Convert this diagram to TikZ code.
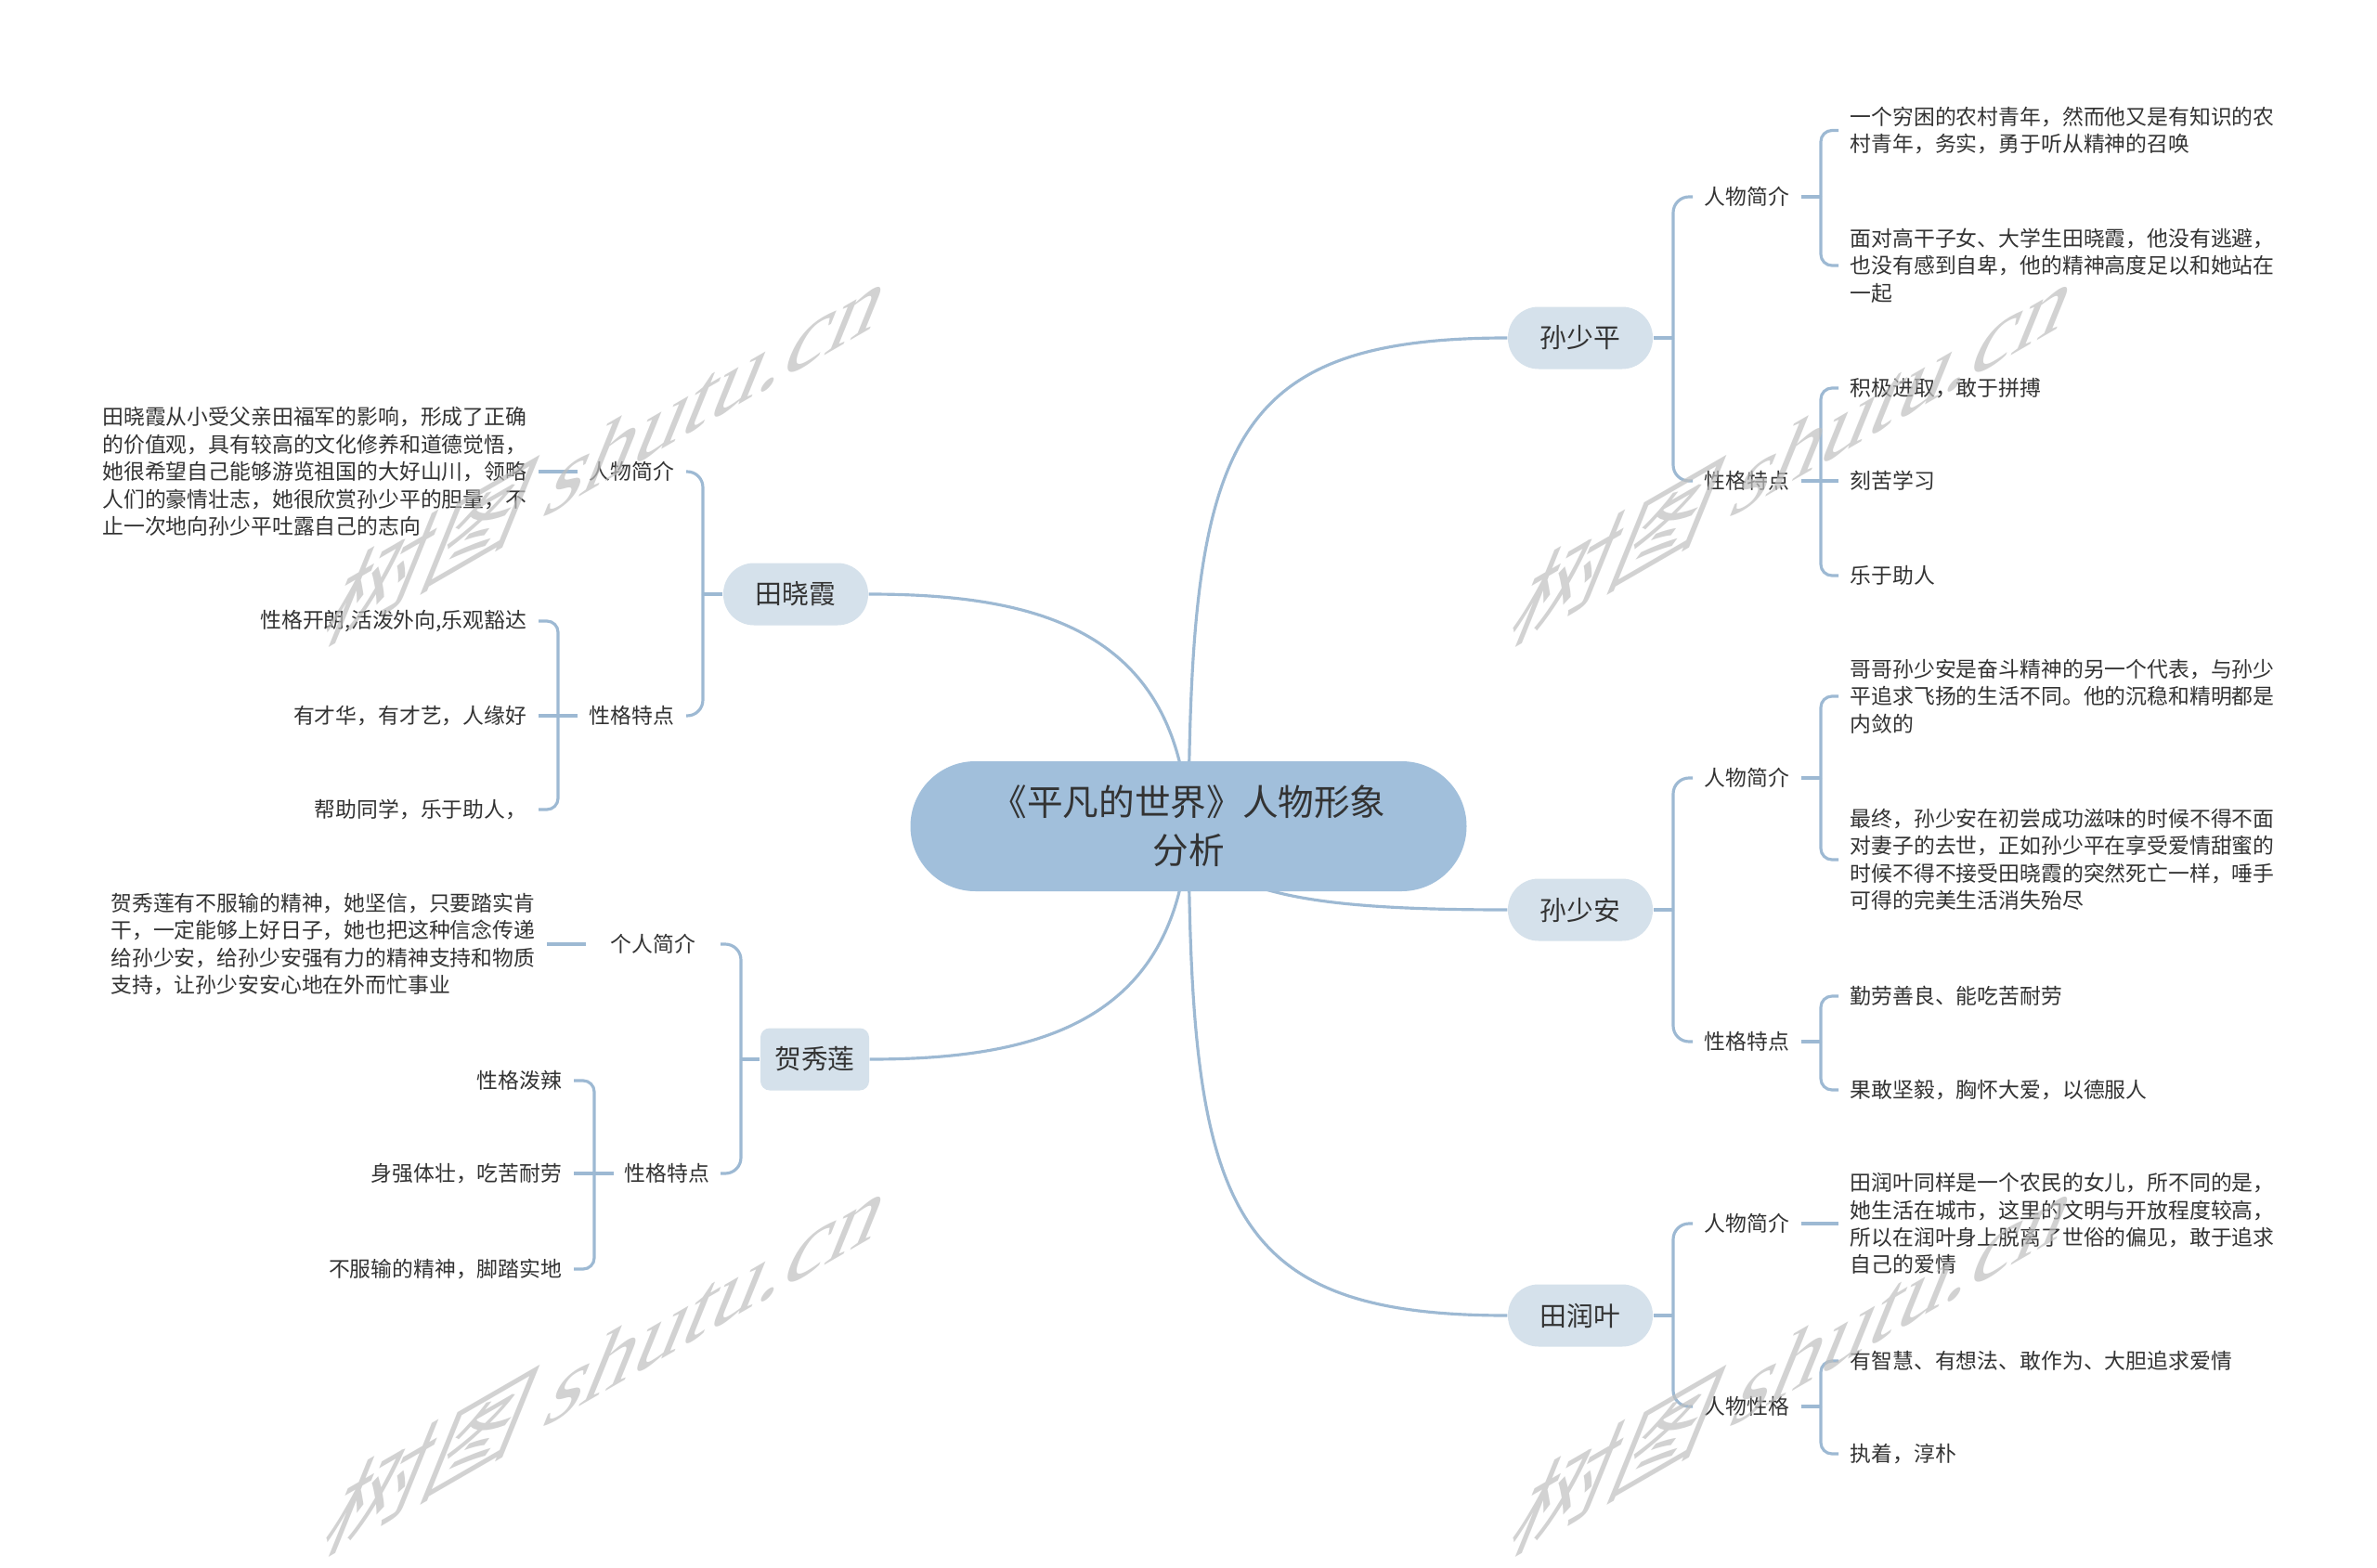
\documentclass[tikz,border=0pt]{standalone}
\usepackage{fontspec}
\usepackage{xcolor}
\usepackage{tikz}
\usetikzlibrary{calc,backgrounds}
\setmainfont{Liberation Serif}
\newfontfamily\cjk{Noto Sans CJK SC}
\definecolor{BranchBlue}{HTML}{9DB9D3}
\definecolor{RootBlue}{HTML}{A1BFDB}
\definecolor{TopicBlue}{HTML}{D5E1EB}
\definecolor{InkGray}{HTML}{333333}
\definecolor{MarkGray}{HTML}{BFBFBF}
\tikzset{
  rootnode/.style={fill=RootBlue,rounded corners=0.7cm,minimum width=5.99cm,minimum height=1.4cm,align=center,text=InkGray,font=\cjk\fontsize{11}{14.8}\selectfont},
  topic/.style={fill=TopicBlue,rounded corners=0.33cm,minimum width=1.56cm,minimum height=0.67cm,inner sep=0pt,text=InkGray,font=\cjk\fontsize{8.2}{10}\selectfont},
  subtopic/.style={inner xsep=0.12cm,inner ysep=0.04cm,text=InkGray,font=\cjk\fontsize{6.5}{8.37}\selectfont},
  leaf/.style={subtopic,align=left},
  branch/.style={BranchBlue,line width=0.9pt},
  elbow/.style={branch,rounded corners=0.17cm},
  twig/.style={branch,rounded corners=0.12cm},
  watermark/.style={anchor=base west,text=MarkGray,opacity=0.7,cm={0.866,0.5,0.375,0.927,(0,0)},font=\fontsize{35}{35}\selectfont}
}

\begin{document}
\begin{tikzpicture}
  \useasboundingbox (0,0) rectangle (25.6,-16.89);
  \clip (0,0) rectangle (25.6,-16.89);
  % centre and main topics
  \node[rootnode] (root) at (12.80,-8.90) {《平凡的世界》人物形象\\分析};
  \node[topic] (sp) at (17.02,-3.64) {孙少平};
  \node[topic] (sa) at (17.02,-9.80) {孙少安};
  \node[topic] (ry) at (17.02,-14.17) {田润叶};
  \node[topic] (xx) at (8.57,-6.40) {田晓霞};
  \node[topic,rounded corners=0.1cm,minimum width=1.17cm] (xl) at (8.775,-11.41) {贺秀莲};
  % 孙少平
  \node[subtopic,anchor=west] (sp-intro) at (18.23,-2.12) {人物简介};
  \node[subtopic,anchor=west] (sp-trait) at (18.23,-5.18) {性格特点};
  \node[leaf,anchor=west] (sp-i1) at (19.80,-1.405) {一个穷困的农村青年，然而他又是有知识的农\\村青年，务实，勇于听从精神的召唤};
  \node[leaf,anchor=west] (sp-i2) at (19.80,-2.86) {面对高干子女、大学生田晓霞，他没有逃避，\\也没有感到自卑，他的精神高度足以和她站在\\一起};
  \node[leaf,anchor=west] (sp-t1) at (19.80,-4.18) {积极进取，敢于拼搏};
  \node[leaf,anchor=west] (sp-t2) at (19.80,-5.18) {刻苦学习};
  \node[leaf,anchor=west] (sp-t3) at (19.80,-6.20) {乐于助人};
  % 孙少安
  \node[subtopic,anchor=west] (sa-intro) at (18.23,-8.38) {人物简介};
  \node[subtopic,anchor=west] (sa-trait) at (18.23,-11.22) {性格特点};
  \node[leaf,anchor=west] (sa-i1) at (19.80,-7.50) {哥哥孙少安是奋斗精神的另一个代表，与孙少\\平追求飞扬的生活不同。他的沉稳和精明都是\\内敛的};
  \node[leaf,anchor=west] (sa-i2) at (19.80,-9.26) {最终，孙少安在初尝成功滋味的时候不得不面\\对妻子的去世，正如孙少平在享受爱情甜蜜的\\时候不得不接受田晓霞的突然死亡一样，唾手\\可得的完美生活消失殆尽};
  \node[leaf,anchor=west] (sa-t1) at (19.80,-10.73) {勤劳善良、能吃苦耐劳};
  \node[leaf,anchor=west] (sa-t2) at (19.80,-11.74) {果敢坚毅，胸怀大爱，以德服人};
  % 田润叶
  \node[subtopic,anchor=west] (ry-intro) at (18.23,-13.18) {人物简介};
  \node[subtopic,anchor=west] (ry-trait) at (18.23,-15.15) {人物性格};
  \node[leaf,anchor=west] (ry-i1) at (19.80,-13.18) {田润叶同样是一个农民的女儿，所不同的是，\\她生活在城市，这里的文明与开放程度较高，\\所以在润叶身上脱离了世俗的偏见，敢于追求\\自己的爱情};
  \node[leaf,anchor=west] (ry-t1) at (19.80,-14.66) {有智慧、有想法、敢作为、大胆追求爱情};
  \node[leaf,anchor=west] (ry-t2) at (19.80,-15.66) {执着，淳朴};
  % 田晓霞
  \node[subtopic,anchor=east] (xx-intro) at (7.39,-5.08) {人物简介};
  \node[subtopic,anchor=east] (xx-trait) at (7.39,-7.71) {性格特点};
  \node[leaf,anchor=east] (xx-i1) at (5.80,-5.08) {田晓霞从小受父亲田福军的影响，形成了正确\\的价值观，具有较高的文化修养和道德觉悟，\\她很希望自己能够游览祖国的大好山川，领略\\人们的豪情壮志，她很欣赏孙少平的胆量，不\\止一次地向孙少平吐露自己的志向};
  \node[subtopic,anchor=east] (xx-t1) at (5.80,-6.69) {性格开朗,活泼外向,乐观豁达};
  \node[subtopic,anchor=east] (xx-t2) at (5.80,-7.71) {有才华，有才艺，人缘好};
  \node[subtopic,anchor=east] (xx-t3) at (5.80,-8.72) {帮助同学，乐于助人，};
  % 贺秀莲
  \node[subtopic,anchor=east,inner xsep=0.26cm] (xl-intro) at (7.76,-10.17) {个人简介};
  \node[subtopic,anchor=east,inner xsep=0.11cm] (xl-trait) at (7.76,-12.64) {性格特点};
  \node[leaf,anchor=east] (xl-i1) at (5.89,-10.17) {贺秀莲有不服输的精神，她坚信，只要踏实肯\\干，一定能够上好日子，她也把这种信念传递\\给孙少安，给孙少安强有力的精神支持和物质\\支持，让孙少安安心地在外而忙事业};
  \node[subtopic,anchor=east] (xl-t1) at (6.18,-11.64) {性格泼辣};
  \node[subtopic,anchor=east] (xl-t2) at (6.18,-12.64) {身强体壮，吃苦耐劳};
  \node[subtopic,anchor=east] (xl-t3) at (6.18,-13.67) {不服输的精神，脚踏实地};

  \begin{scope}[on background layer]
    \fill[white] (0,0) rectangle (25.6,-16.89);
    % curves out of the centre
    \draw[branch] (root.center) .. controls (12.82,-4.80) and (13.20,-3.64) .. (sp.west);
    \draw[branch] (root.center) .. controls (13.00,-9.65) and (14.20,-9.80) .. (sa.west);
    \draw[branch] (root.center) .. controls (12.82,-13.00) and (13.20,-14.17) .. (ry.west);
    \draw[branch] (root.center) .. controls (12.70,-6.80) and (11.20,-6.40) .. (xx.east);
    \draw[branch] (root.center) .. controls (12.70,-11.00) and (11.20,-11.41) .. (xl.east);
    % right brackets
    \coordinate (spj) at (18.02,-3.64);
    \coordinate (saj) at (18.02,-9.80);
    \coordinate (ryj) at (18.02,-14.17);
    \draw[branch] (sp.east) -- (spj);
    \draw[branch] (sa.east) -- (saj);
    \draw[branch] (ry.east) -- (ryj);
    \draw[elbow] (spj) |- (sp-intro.west);
    \draw[elbow] (spj) |- (sp-trait.west);
    \draw[elbow] (saj) |- (sa-intro.west);
    \draw[elbow] (saj) |- (sa-trait.west);
    \draw[elbow] (ryj) |- (ry-intro.west);
    \draw[elbow] (ryj) |- (ry-trait.west);
    \coordinate (spij) at (19.61,-2.12);
    \coordinate (sptj) at (19.61,-5.18);
    \coordinate (saij) at (19.61,-8.38);
    \coordinate (satj) at (19.61,-11.22);
    \coordinate (rytj) at (19.61,-15.15);
    \draw[branch] (sp-intro.east) -- (spij);
    \draw[branch] (sp-trait.east) -- (sp-t2.west);
    \draw[branch] (sa-intro.east) -- (saij);
    \draw[branch] (sa-trait.east) -- (satj);
    \draw[branch] (ry-intro.east) -- (ry-i1.west);
    \draw[branch] (ry-trait.east) -- (rytj);
    \foreach \leaf in {sp-i1,sp-i2} \draw[twig] (spij) |- (\leaf.west);
    \foreach \leaf in {sp-t1,sp-t3} \draw[twig] (sptj) |- (\leaf.west);
    \foreach \leaf in {sa-i1,sa-i2} \draw[twig] (saij) |- (\leaf.west);
    \foreach \leaf in {sa-t1,sa-t2} \draw[twig] (satj) |- (\leaf.west);
    \foreach \leaf in {ry-t1,ry-t2} \draw[twig] (rytj) |- (\leaf.west);
    % left brackets
    \coordinate (xxj) at (7.57,-6.40);
    \coordinate (xlj) at (7.98,-11.41);
    \draw[branch] (xx.west) -- (xxj);
    \draw[branch] (xl.west) -- (xlj);
    \draw[elbow] (xxj) |- (xx-intro.east);
    \draw[elbow] (xxj) |- (xx-trait.east);
    \draw[elbow] (xlj) |- (xl-intro.east);
    \draw[elbow] (xlj) |- (xl-trait.east);
    \coordinate (xxtj) at (6.01,-7.71);
    \coordinate (xltj) at (6.40,-12.64);
    \draw[branch] (xx-intro.west) -- (xx-i1.east);
    \draw[branch] (xx-trait.west) -- (xx-t2.east);
    \draw[branch] (xl-intro.west) -- (xl-i1.east);
    \draw[branch] (xl-trait.west) -- (xl-t2.east);
    \foreach \leaf in {xx-t1,xx-t3} \draw[twig] (xxtj) |- (\leaf.east);
    \foreach \leaf in {xl-t1,xl-t3} \draw[twig] (xltj) |- (\leaf.east);
  \end{scope}

  % watermarks
  \node[watermark] (wm-tl) at (3.30,-7.05) {{\cjk 树图} shutu.cn};
  \node[watermark] (wm-tr) at (16.08,-7.05) {{\cjk 树图} shutu.cn};
  \node[watermark] (wm-bl) at (3.30,-16.85) {{\cjk 树图} shutu.cn};
  \node[watermark] (wm-br) at (16.08,-16.85) {{\cjk 树图} shutu.cn};
\end{tikzpicture}
\end{document}
